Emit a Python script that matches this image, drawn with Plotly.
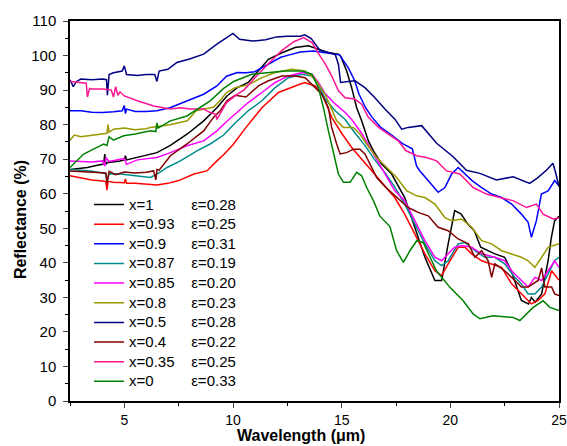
import plotly.graph_objects as go

# ---- data ----
x_labels = ["x=1", "x=0.93", "x=0.9", "x=0.87", "x=0.85", "x=0.8", "x=0.5", "x=0.4", "x=0.35", "x=0"]
eps_labels = ["ε=0.28", "ε=0.25", "ε=0.31", "ε=0.19", "ε=0.20", "ε=0.23", "ε=0.28", "ε=0.22", "ε=0.25", "ε=0.33"]
colors = ["#000000", "#FF0000", "#0000FF", "#008B8B", "#FF00FF", "#999900", "#000080", "#800000", "#FF1493", "#008000"]

wl_x1 = [2.5, 3.0, 3.3, 3.7, 4.05, 4.1, 4.15, 4.2, 4.5, 4.8, 5.0, 5.05, 5.1, 5.6, 6.5, 7.1, 7.9, 8.65, 9.26, 9.72, 10.2, 10.7, 11.17, 11.63, 12.25, 12.86, 13.47, 13.93, 14.4, 14.85, 14.95, 15.23, 15.46, 15.69, 15.92, 16.23, 16.46, 16.84, 17.3, 17.9, 18.37, 18.83, 19.29, 19.6, 19.9, 20.2, 20.5, 20.8, 21.1, 21.4, 22.05, 22.5, 22.8, 23.27, 23.6, 23.73, 23.9, 24.2, 24.5, 24.65, 24.8, 25.0]
r_x1 = [67.0, 67.3, 67.6, 68.2, 68.6, 71.5, 68.5, 69.0, 69.2, 69.5, 69.8, 71.0, 69.8, 70.5, 71.9, 73.9, 77.3, 81.1, 84.9, 88.3, 90.7, 92.2, 95.5, 98.9, 100.8, 102.3, 102.8, 101.8, 100.8, 100.4, 99.9, 95.5, 90.7, 84.9, 81.1, 75.3, 72.4, 68.6, 65.7, 58.9, 50.3, 41.6, 34.9, 34.9, 45.5, 55.1, 54.1, 51.2, 49.3, 44.5, 42.6, 41.6, 37.7, 29.1, 28.1, 30.0, 28.6, 31.0, 40.6, 47.4, 52.2, 53.5]

wl_x093 = [2.5, 3.0, 3.5, 4.0, 4.15, 4.2, 4.25, 4.5, 5.0, 5.05, 5.1, 5.5, 6.0, 6.5, 7.0, 7.5, 8.2, 8.8, 9.26, 9.6, 10.0, 10.6, 11.33, 12.09, 12.86, 13.3, 13.78, 14.08, 14.54, 15.0, 15.46, 16.0, 16.5, 16.9, 17.44, 17.9, 18.37, 18.83, 19.29, 19.6, 19.9, 20.36, 20.67, 20.98, 21.44, 21.9, 22.36, 22.82, 23.27, 23.73, 24.04, 24.35, 24.66, 25.0]
r_x093 = [65.2, 64.5, 64.0, 63.7, 63.5, 61.0, 63.6, 63.3, 63.2, 64.3, 63.0, 63.0, 62.7, 62.5, 63.0, 63.8, 65.7, 66.6, 69.5, 71.5, 74.2, 79.2, 84.9, 89.3, 91.2, 92.2, 91.2, 89.3, 82.1, 77.5, 73.4, 69.5, 66.0, 62.8, 58.9, 54.1, 48.3, 42.6, 37.7, 36.3, 39.7, 44.5, 44.5, 42.6, 40.6, 39.7, 38.7, 33.9, 31.0, 28.1, 29.1, 31.0, 37.7, 35.0]

wl_x09 = [2.5, 3.0, 3.5, 4.0, 4.5, 4.9, 5.0, 5.05, 5.1, 5.5, 6.0, 6.5, 7.1, 7.9, 8.65, 9.26, 9.7, 10.2, 10.6, 11.0, 11.5, 12.2, 12.6, 13.1, 13.7, 14.3, 14.9, 15.3, 15.6, 15.8, 16.1, 16.4, 16.8, 17.3, 17.8, 18.25, 18.45, 18.6, 19.0, 19.44, 19.75, 20.06, 20.36, 20.67, 21.0, 21.44, 21.9, 22.36, 22.82, 23.27, 23.58, 23.73, 23.96, 24.19, 24.5, 24.8, 25.0]
r_x09 = [84.0, 84.0, 83.6, 83.5, 83.7, 84.0, 85.5, 83.2, 84.5, 83.8, 83.8, 84.0, 84.9, 86.9, 88.8, 91.2, 94.0, 95.1, 95.0, 95.3, 97.0, 99.5, 100.2, 101.0, 101.3, 100.8, 100.2, 96.5, 92.7, 88.8, 84.9, 82.1, 79.2, 77.0, 74.5, 73.0, 68.0, 66.6, 63.8, 60.4, 61.8, 65.7, 67.6, 65.7, 63.8, 61.8, 59.9, 58.9, 57.0, 54.1, 51.7, 47.4, 52.2, 59.9, 60.8, 63.8, 62.3]

wl_x087 = [2.5, 3.0, 3.44, 4.0, 4.15, 4.2, 4.3, 4.82, 5.5, 6.2, 6.5, 6.97, 7.58, 8.34, 8.95, 9.57, 10.1, 10.7, 11.33, 11.94, 12.55, 13.17, 13.63, 13.93, 14.24, 14.7, 15.16, 15.62, 16.07, 16.5, 17.0, 17.44, 17.9, 18.37, 18.83, 19.29, 19.6, 19.9, 20.36, 20.67, 21.13, 21.59, 22.05, 22.5, 22.97, 23.27, 23.58, 23.89, 24.2, 24.5, 24.8, 25.0]
r_x087 = [67.0, 66.8, 66.6, 66.0, 65.8, 63.5, 65.8, 65.7, 65.2, 64.7, 65.7, 67.6, 69.5, 72.4, 74.4, 77.0, 80.5, 84.0, 86.9, 90.7, 93.6, 94.6, 94.1, 91.7, 87.4, 84.0, 81.5, 77.5, 74.0, 70.0, 66.0, 62.0, 57.0, 51.2, 45.5, 40.6, 39.2, 40.6, 45.5, 45.9, 43.5, 41.6, 41.6, 39.7, 35.8, 33.9, 31.0, 31.0, 33.0, 36.8, 40.6, 41.6]

wl_x085 = [2.5, 3.0, 3.5, 4.0, 4.1, 4.15, 4.3, 4.8, 5.0, 5.1, 5.6, 6.5, 7.12, 7.88, 8.65, 9.26, 9.72, 10.18, 10.7, 11.33, 11.94, 12.55, 13.17, 13.63, 13.93, 14.24, 14.7, 15.16, 15.46, 15.92, 16.5, 17.0, 17.44, 17.9, 18.37, 18.83, 19.29, 19.6, 19.9, 20.2, 20.52, 20.98, 21.44, 22.05, 22.5, 22.82, 23.12, 23.43, 23.58, 23.89, 24.2, 24.5, 24.8, 25.0]
r_x085 = [69.5, 69.3, 69.2, 69.5, 68.0, 70.5, 69.3, 70.0, 70.2, 68.5, 69.8, 70.5, 71.9, 73.9, 75.3, 78.2, 81.0, 83.5, 86.4, 89.3, 92.2, 94.1, 95.1, 94.6, 92.2, 89.0, 86.0, 83.5, 81.5, 77.5, 71.0, 65.5, 60.9, 58.0, 52.2, 46.4, 41.6, 40.6, 42.6, 44.5, 45.0, 44.5, 42.6, 41.6, 40.6, 37.7, 35.8, 33.9, 33.0, 35.8, 34.9, 37.7, 40.6, 38.7]

wl_x08 = [2.5, 2.7, 3.0, 3.5, 4.0, 4.2, 4.25, 4.3, 4.5, 5.0, 5.5, 6.0, 6.2, 6.5, 7.1, 7.9, 8.3, 8.65, 9.1, 9.4, 9.7, 10.1, 10.7, 11.33, 11.94, 12.7, 13.32, 13.78, 14.24, 14.77, 15.08, 15.54, 15.84, 16.15, 16.61, 17.07, 17.53, 17.99, 18.45, 18.83, 19.29, 19.75, 20.06, 20.52, 20.98, 21.44, 21.9, 22.36, 22.82, 23.27, 23.58, 23.89, 24.2, 24.5, 25.0]
r_x08 = [75.5, 77.0, 76.5, 77.0, 77.3, 77.5, 80.0, 77.8, 78.7, 79.0, 78.5, 78.8, 79.2, 79.5, 80.0, 81.1, 84.0, 84.5, 85.0, 86.9, 89.3, 90.7, 91.5, 93.6, 95.1, 96.0, 95.5, 93.2, 88.8, 81.1, 79.2, 79.2, 77.3, 74.4, 70.5, 67.6, 64.7, 60.9, 59.4, 58.9, 57.0, 53.1, 52.2, 52.7, 50.3, 46.4, 45.5, 43.5, 42.6, 41.6, 40.6, 38.7, 41.6, 44.5, 45.5]

wl_x05 = [2.5, 2.65, 2.8, 3.0, 3.5, 4.0, 4.18, 4.22, 4.3, 4.5, 4.9, 5.0, 5.1, 5.6, 6.0, 6.4, 6.5, 6.6, 7.0, 7.42, 8.0, 8.65, 9.26, 10.0, 10.3, 10.9, 11.5, 12.0, 12.5, 13.1, 13.3, 13.6, 14.0, 14.4, 14.7, 14.85, 14.95, 15.3, 15.61, 16.07, 16.53, 16.99, 17.45, 17.76, 18.06, 18.68, 19.37, 20.13, 20.74, 21.36, 22.12, 22.89, 23.65, 24.0, 24.42, 24.72, 24.85, 25.0]
r_x05 = [93.0, 91.0, 92.5, 93.2, 93.0, 93.2, 93.0, 88.5, 94.5, 95.0, 95.5, 97.0, 94.5, 94.2, 94.5, 94.5, 92.5, 95.5, 96.0, 98.0, 99.0, 100.4, 103.3, 106.4, 104.7, 104.2, 104.6, 105.4, 105.6, 105.6, 106.0, 104.9, 101.5, 100.8, 100.4, 97.5, 92.2, 92.5, 92.7, 90.7, 87.8, 84.5, 81.6, 78.7, 79.2, 79.7, 74.6, 70.7, 66.8, 65.9, 64.0, 64.9, 63.0, 64.5, 66.8, 68.8, 66.0, 62.0]

wl_x04 = [2.5, 3.0, 3.5, 4.0, 4.15, 4.2, 4.3, 4.6, 5.0, 5.5, 6.0, 6.35, 6.45, 6.5, 6.6, 7.12, 7.88, 8.65, 9.1, 9.41, 9.72, 10.1, 10.6, 11.17, 11.63, 12.25, 12.86, 13.32, 13.63, 14.08, 14.39, 14.54, 14.77, 14.93, 15.23, 15.54, 15.84, 16.07, 16.23, 16.61, 17.0, 17.44, 18.06, 18.52, 18.98, 19.44, 19.9, 20.36, 20.83, 21.13, 21.44, 21.74, 21.9, 22.05, 22.5, 22.97, 23.27, 23.58, 24.04, 24.2, 24.35, 24.66, 24.8, 25.0]
r_x04 = [66.6, 66.4, 66.2, 66.2, 66.0, 63.0, 66.5, 65.5, 66.3, 66.0, 66.2, 66.6, 64.0, 67.0, 66.8, 71.0, 74.4, 78.2, 82.1, 84.0, 86.9, 88.5, 88.0, 91.2, 92.7, 94.1, 94.1, 93.6, 91.7, 88.8, 84.9, 79.2, 74.4, 71.5, 71.9, 72.9, 72.9, 71.5, 69.5, 64.7, 62.0, 59.4, 56.0, 54.6, 53.6, 50.3, 49.3, 46.9, 45.5, 41.6, 43.5, 40.6, 35.8, 39.7, 37.7, 34.9, 33.0, 33.0, 34.9, 38.5, 33.0, 33.0, 31.0, 30.5]

wl_x035 = [2.5, 3.0, 3.25, 3.3, 3.4, 3.5, 4.0, 4.4, 4.5, 4.6, 4.7, 4.8, 5.0, 5.6, 6.35, 7.1, 7.6, 8.0, 8.65, 8.95, 9.2, 9.26, 9.4, 9.7, 10.2, 10.5, 11.0, 11.6, 12.25, 12.8, 13.25, 13.65, 13.95, 14.25, 14.55, 14.85, 15.16, 15.6, 15.92, 16.23, 16.7, 17.14, 17.6, 17.95, 18.45, 18.9, 19.37, 19.83, 20.44, 21.05, 21.66, 22.28, 22.89, 23.5, 23.96, 24.27, 24.73, 25.0]
r_x035 = [92.5, 92.2, 92.0, 88.0, 90.5, 90.3, 90.3, 90.0, 88.0, 91.0, 88.5, 89.5, 88.3, 86.9, 85.4, 84.5, 84.9, 84.5, 84.5, 83.5, 83.0, 81.5, 83.0, 86.4, 88.8, 90.0, 93.5, 97.5, 101.5, 104.0, 105.2, 103.7, 100.4, 97.5, 94.0, 89.8, 87.8, 87.4, 85.9, 82.1, 79.2, 77.3, 75.3, 72.5, 71.0, 70.5, 69.5, 66.6, 65.7, 61.8, 59.9, 58.9, 58.0, 56.0, 57.0, 54.1, 52.7, 53.0]

wl_x0 = [2.5, 2.8, 3.13, 3.6, 4.05, 4.2, 4.3, 4.5, 4.97, 5.5, 6.2, 6.45, 6.5, 6.55, 7.12, 7.88, 8.34, 8.95, 9.57, 10.03, 10.87, 11.63, 12.4, 13.17, 13.63, 13.93, 14.16, 14.39, 14.62, 14.85, 15.08, 15.39, 15.69, 15.92, 16.15, 16.46, 16.76, 17.22, 17.53, 17.84, 18.14, 18.45, 18.75, 19.36, 19.98, 20.59, 21.05, 21.36, 21.97, 22.89, 23.2, 23.81, 24.27, 24.58, 25.0]
r_x0 = [67.6, 69.5, 71.5, 73.0, 74.4, 74.0, 76.5, 75.5, 76.8, 77.3, 78.2, 78.0, 80.5, 79.0, 81.1, 82.5, 84.5, 86.9, 90.5, 92.5, 94.6, 95.1, 95.5, 95.5, 94.6, 90.7, 84.9, 78.2, 71.5, 65.7, 63.3, 63.3, 66.2, 65.2, 61.8, 58.0, 53.5, 50.5, 43.5, 40.1, 43.5, 46.4, 45.9, 37.7, 32.9, 29.0, 25.2, 23.8, 24.7, 24.2, 23.3, 27.1, 29.0, 27.1, 26.2]

x_ticks = [5, 10, 15, 20, 25]
y_ticks = list(range(0, 111, 10))

wavelengths = [wl_x1, wl_x093, wl_x09, wl_x087, wl_x085, wl_x08, wl_x05, wl_x04, wl_x035, wl_x0]
reflectances = [r_x1, r_x093, r_x09, r_x087, r_x085, r_x08, r_x05, r_x04, r_x035, r_x0]

# Arial/Liberation Sans advance widths (em) for padding legend columns
_w = {"x": 0.5, "=": 0.584, ".": 0.278}
def text_em(s):
    return sum(_w.get(c, 0.556) for c in s)

COL_EM = 4.05
def legend_name(xl, el):
    n = max(1, round((COL_EM - text_em(xl)) / 0.278))
    return '<span style="font-size:15px">' + xl + "\u00a0" * n + el + "</span>"

FONT = "Liberation Sans, Arial, sans-serif"
ML, MR, MT, MB = 70, 8, 21, 45
PH = 446 - MT - MB

fig = go.Figure()
for xl, el, c, wl, r in zip(x_labels, eps_labels, colors, wavelengths, reflectances):
    fig.add_trace(go.Scatter(x=wl, y=r, mode="lines", name=legend_name(xl, el),
                             line=dict(color=c, width=1.5)))

fig.update_layout(
    width=567, height=446,
    margin=dict(l=ML, r=MR, t=MT, b=MB, autoexpand=False),
    paper_bgcolor="white", plot_bgcolor="white",
    font=dict(family=FONT, size=14, color="black"),
    showlegend=True,
    legend=dict(x=0.039, y=0.556, xanchor="left", yanchor="top",
                bgcolor="rgba(0,0,0,0)", borderwidth=0,
                font=dict(family=FONT, size=12.8, color="black"),
                tracegroupgap=0),
    annotations=[
        dict(text="<b>Wavelength (μm)</b>", xref="paper", yref="paper",
             x=0.473, y=-34 / PH, xanchor="center", yanchor="middle",
             showarrow=False, font=dict(family=FONT, size=16, color="black")),
        dict(text="<b>Reflectance (%)</b>", xref="paper", yref="paper",
             x=-50 / 489, y=0.476, xanchor="center", yanchor="middle", textangle=-90,
             showarrow=False, font=dict(family=FONT, size=16, color="black")),
    ],
)
fig.update_xaxes(range=[2.5, 25], tickvals=x_ticks, ticks="outside", ticklen=5, tickwidth=1.2,
                 showline=True, linewidth=1.5, linecolor="black", mirror=True,
                 showgrid=False, zeroline=False, automargin=False,
                 minor=dict(dtick=2.5, tick0=0, ticks="outside", ticklen=3, tickwidth=1, tickcolor="black", showgrid=False),
                 tickfont=dict(size=14))
fig.update_yaxes(range=[0, 110], tickvals=y_ticks, ticks="outside", ticklen=5, tickwidth=1.2,
                 showline=True, linewidth=1.5, linecolor="black", mirror=True,
                 showgrid=False, zeroline=False, automargin=False, ticklabelstandoff=4,
                 minor=dict(dtick=5, tick0=0, ticks="outside", ticklen=3, tickwidth=1, tickcolor="black", showgrid=False),
                 tickfont=dict(size=15))

fig.write_html("out.html", config={"displayModeBar": False},
               post_script="document.body.style.margin='0';document.body.style.overflow='hidden';")
